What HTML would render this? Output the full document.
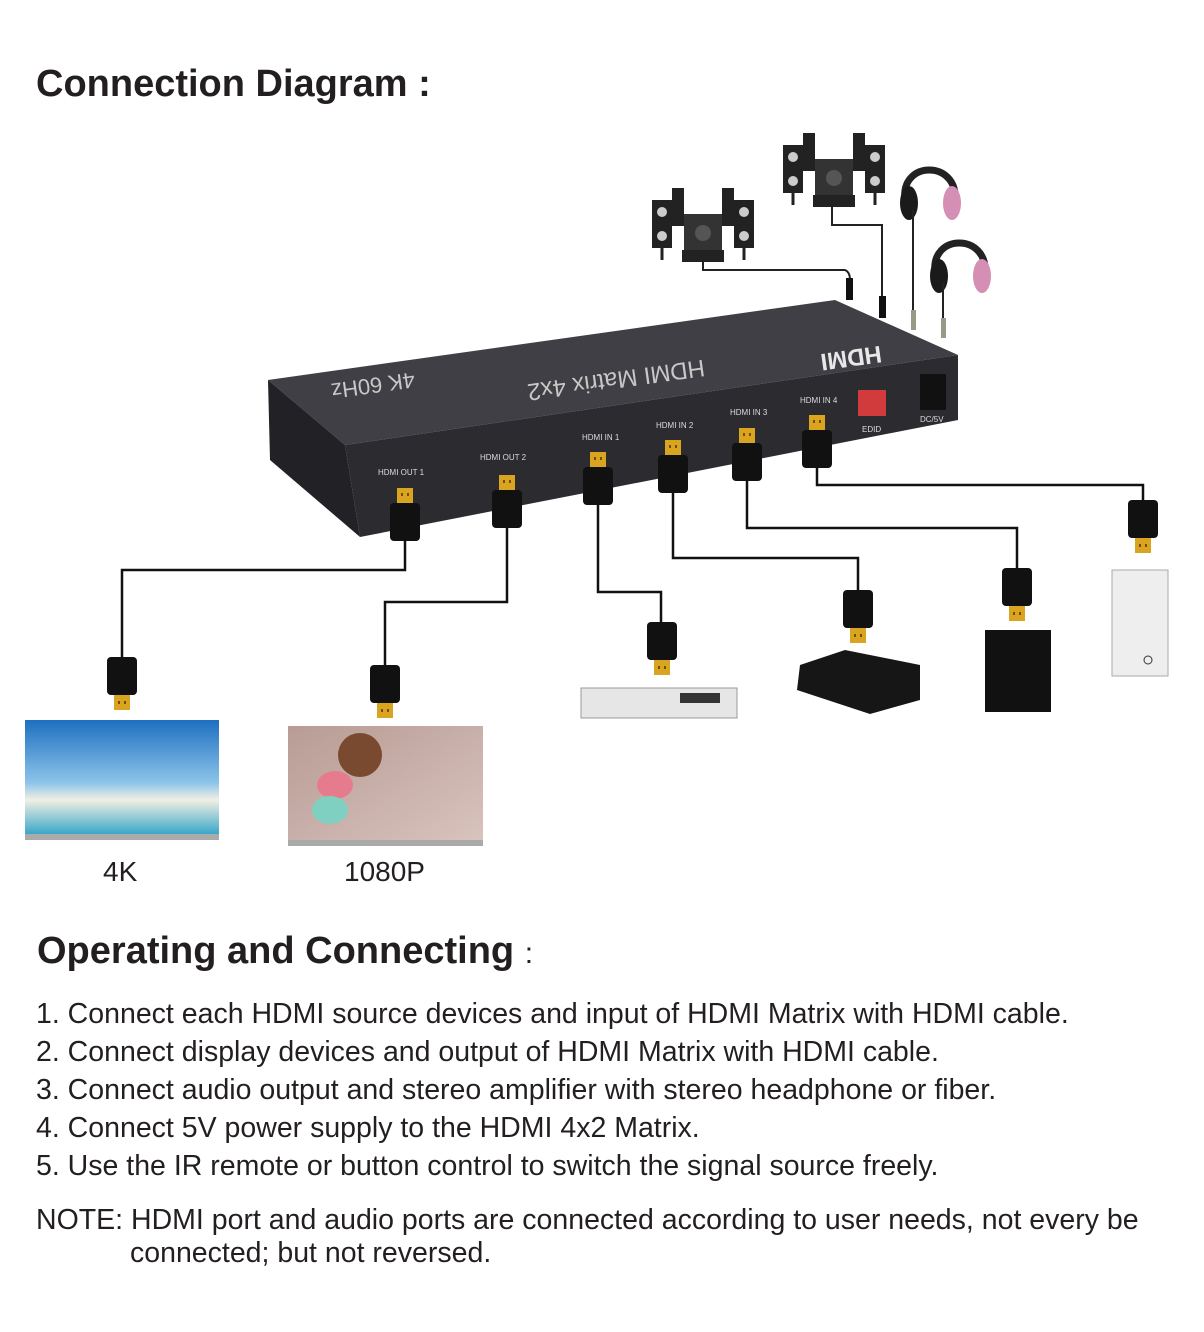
<!DOCTYPE html>
<html><head><style>
body{margin:0;background:#fff;width:1204px;height:1332px;overflow:hidden;position:relative;font-family:"Liberation Sans",Arial,sans-serif;color:#231f20}
.t{position:absolute;font-weight:bold;font-size:38px;white-space:nowrap}
.l{position:absolute;left:36px;font-size:28.5px;white-space:nowrap}
svg{position:absolute;left:0;top:0}
</style></head><body>
<svg width="1204" height="1332" viewBox="0 0 1204 1332">
<defs>
<linearGradient id="sky" x1="0" y1="0" x2="0" y2="1"><stop offset="0" stop-color="#1e6fc0"/><stop offset="0.55" stop-color="#8cc4ea"/><stop offset="0.7" stop-color="#f2efe4"/><stop offset="1" stop-color="#3aa7c9"/></linearGradient>
<linearGradient id="pk" x1="0" y1="0" x2="1" y2="1"><stop offset="0" stop-color="#b89b95"/><stop offset="1" stop-color="#d9c3bd"/></linearGradient>
<g id="pu"><rect x="-15" y="0" width="30" height="38" rx="4" fill="#111"/><rect x="-8" y="-15" width="16" height="15" fill="#d9a520"/><rect x="-4" y="-10" width="2" height="3" fill="#7a4a00"/><rect x="2" y="-10" width="2" height="3" fill="#7a4a00"/></g>
<g id="pd"><rect x="-15" y="0" width="30" height="38" rx="4" fill="#111"/><rect x="-8" y="38" width="16" height="15" fill="#d9a520"/><rect x="-4" y="44" width="2" height="3" fill="#7a4a00"/><rect x="2" y="44" width="2" height="3" fill="#7a4a00"/></g>
<g id="spk"><rect x="0" y="12" width="20" height="48" fill="#222"/><rect x="20" y="0" width="12" height="38" fill="#222"/><rect x="32" y="26" width="38" height="36" fill="#333"/><rect x="70" y="0" width="12" height="38" fill="#222"/><rect x="82" y="12" width="20" height="48" fill="#222"/><rect x="30" y="62" width="42" height="12" fill="#222"/><circle cx="10" cy="24" r="5" fill="#ccc"/><circle cx="10" cy="48" r="5" fill="#ccc"/><circle cx="92" cy="24" r="5" fill="#ccc"/><circle cx="92" cy="48" r="5" fill="#ccc"/><circle cx="51" cy="45" r="8" fill="#555"/><line x1="10" y1="60" x2="10" y2="72" stroke="#222" stroke-width="3"/><line x1="92" y1="60" x2="92" y2="72" stroke="#222" stroke-width="3"/></g>
<g id="hp"><path d="M5 45 C0 5 58 5 55 45" fill="none" stroke="#222" stroke-width="7"/><ellipse cx="9" cy="48" rx="9" ry="17" fill="#1a1a1a"/><ellipse cx="52" cy="48" rx="9" ry="17" fill="#d58fb5"/></g>
</defs>
<use href="#spk" x="652" y="188"/><use href="#spk" x="783" y="133"/>
<use href="#hp" x="900" y="155"/><use href="#hp" x="930" y="228"/>
<path d="M703 262 V270 H845 Q850 272 850 280 V300" fill="none" stroke="#222" stroke-width="2"/>
<path d="M832 207 V225 H882 V300" fill="none" stroke="#222" stroke-width="2"/>
<line x1="913" y1="210" x2="913" y2="325" stroke="#222" stroke-width="2"/>
<line x1="943" y1="283" x2="943" y2="335" stroke="#222" stroke-width="2"/>
<rect x="846" y="278" width="7" height="22" fill="#111"/><rect x="879" y="296" width="7" height="22" fill="#111"/>
<rect x="911" y="310" width="5" height="20" fill="#998"/><rect x="941" y="318" width="5" height="20" fill="#998"/>
<polygon points="268,380 835,300 958,355 345,445" fill="#3f3f45"/>
<polygon points="345,445 958,355 958,420 360,537" fill="#2b2b30"/>
<polygon points="268,380 345,445 360,537 270,460" fill="#222226"/>
<g fill="#c8c8c8" text-anchor="middle">
<text transform="translate(615,372) rotate(172)" font-size="24">HDMI Matrix 4x2</text>
<text transform="translate(372,378) rotate(172)" font-size="22">4K 60Hz</text>
<text transform="translate(850,350) rotate(172)" font-size="24" font-weight="bold" fill="#e8e8e8">HDMI</text></g>
<g fill="#ddd" font-size="8"><text x="378" y="475">HDMI OUT 1</text><text x="480" y="460">HDMI OUT 2</text><text x="582" y="440">HDMI IN 1</text><text x="656" y="428">HDMI IN 2</text><text x="730" y="415">HDMI IN 3</text><text x="800" y="403">HDMI IN 4</text><text x="862" y="432">EDID</text><text x="920" y="422">DC/5V</text></g>
<rect x="858" y="390" width="28" height="26" fill="#d23b3b"/><rect x="920" y="374" width="26" height="36" fill="#111"/>
<g fill="none" stroke="#111" stroke-width="2.5">
<path d="M405 540 V570 H122 V657"/><path d="M507 525 V602 H385 V665"/><path d="M598 505 V592 H661 V622"/><path d="M673 490 V558 H858 V590"/><path d="M747 478 V528 H1017 V568"/><path d="M817 465 V485 H1143 V500"/></g>
<use href="#pu" x="405" y="503"/><use href="#pu" x="507" y="490"/><use href="#pu" x="598" y="467"/><use href="#pu" x="673" y="455"/><use href="#pu" x="747" y="443"/><use href="#pu" x="817" y="430"/>
<use href="#pd" x="122" y="657"/><use href="#pd" x="385" y="665"/><use href="#pd" x="662" y="622"/><use href="#pd" x="858" y="590"/><use href="#pd" x="1017" y="568"/><use href="#pd" x="1143" y="500"/>
<rect x="581" y="688" width="156" height="30" fill="#e6e6e6" stroke="#999"/><rect x="680" y="693" width="40" height="10" fill="#333"/>
<polygon points="800,665 845,650 920,665 920,700 870,714 797,690" fill="#161616"/>
<rect x="985" y="630" width="66" height="82" fill="#111"/>
<rect x="1112" y="570" width="56" height="106" fill="#eee" stroke="#aaa"/><circle cx="1148" cy="660" r="4" fill="none" stroke="#333"/>
<rect x="25" y="720" width="194" height="114" fill="url(#sky)"/><rect x="25" y="834" width="194" height="6" fill="#aaa"/>
<rect x="288" y="726" width="195" height="114" fill="url(#pk)"/><circle cx="360" cy="755" r="22" fill="#7a4a30"/><ellipse cx="335" cy="785" rx="18" ry="14" fill="#e67b8e"/><ellipse cx="330" cy="810" rx="18" ry="14" fill="#7fd0c0"/><rect x="288" y="840" width="195" height="6" fill="#aaa"/>
</svg>
<div class="t" style="left:36px;top:63px">Connection Diagram :</div>
<div style="position:absolute;left:103px;top:856px;font-size:28px">4K</div>
<div style="position:absolute;left:344px;top:856px;font-size:28px">1080P</div>
<div class="t" style="left:37px;top:930px">Operating and Connecting <span style="font-weight:normal;font-size:30px">:</span></div>
<div class="l" style="top:998px">1. Connect each HDMI source devices and input of HDMI Matrix with HDMI cable.</div>
<div class="l" style="top:1036px">2. Connect display devices and output of HDMI Matrix with HDMI cable.</div>
<div class="l" style="top:1074px">3. Connect audio output and stereo amplifier with stereo headphone or fiber.</div>
<div class="l" style="top:1112px">4. Connect 5V power supply to the HDMI 4x2 Matrix.</div>
<div class="l" style="top:1150px">5. Use the IR remote or button control to switch the signal source freely.</div>
<div class="l" style="top:1204px">NOTE: HDMI port and audio ports are connected according to user needs, not every be</div>
<div class="l" style="top:1237px;left:130px">connected; but not reversed.</div>
</body></html>
